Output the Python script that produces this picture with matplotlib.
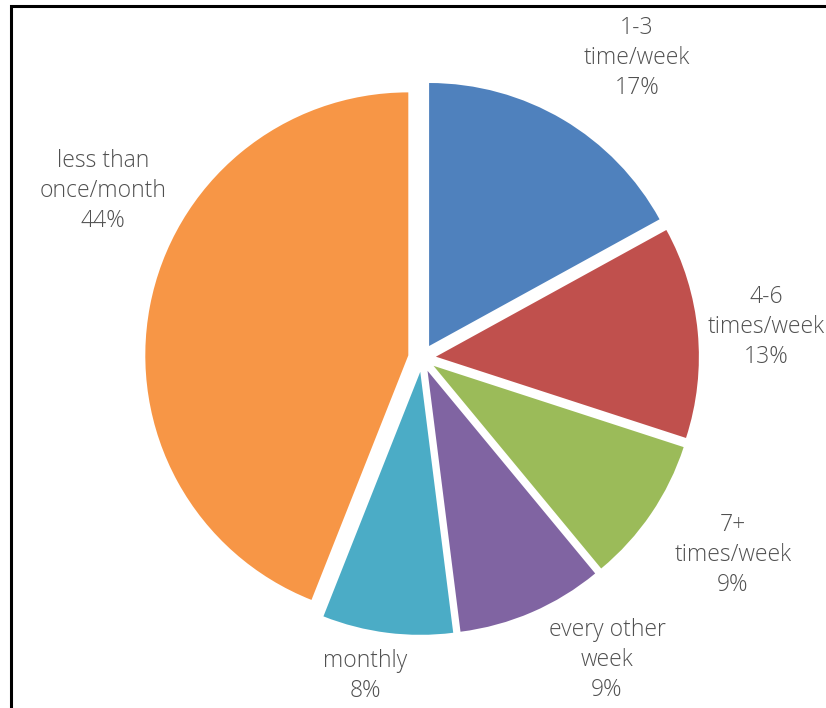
import matplotlib.pyplot as plt
from matplotlib.patches import Rectangle

labels = ["1-3\ntime/week", "4-6\ntimes/week", "7+\ntimes/week",
          "every other\nweek", "monthly", "less than\nonce/month"]
shares = [17, 13, 9, 9, 8, 44]
colors = ["#4F81BD", "#C0504D", "#9BBB59", "#8064A2", "#4BACC6", "#F79646"]

# label centres in pixels (x from left, y from top)
label_px = [(637, 58), (766, 327), (733, 555), (607, 660), (365, 676), (103, 191)]

W, H = 826, 708
cx, cy, r = 422, 358, 263

fig = plt.figure(figsize=(W / 100, H / 100), dpi=100)
ax = fig.add_axes([0, 0, 1, 1])

ax.pie(shares, colors=colors, startangle=90, counterclock=False,
       explode=[0.053] * len(shares), radius=1.0,
       wedgeprops=dict(linewidth=0))

ax.set_aspect("auto")
ax.set_xlim(-cx / r, (W - cx) / r)
ax.set_ylim(-(H - cy) / r, cy / r)
ax.axis("off")

for lab, val, (px, py) in zip(labels, shares, label_px):
    fig.text(px / W, 1 - py / H, f"{lab}\n{val}%", ha="center", va="center",
             fontsize=16.5, color="#505050", family="Open Sans",
             fontweight="light", linespacing=1.32)

# frame: only left and top edges fall inside the picture
fig.patches.append(Rectangle((11 / W, -0.1), 1.2, 1 - 6 / H + 0.1,
                             transform=fig.transFigure, fill=False,
                             edgecolor="black", linewidth=2.2))

fig.savefig("out.png", dpi=100)
